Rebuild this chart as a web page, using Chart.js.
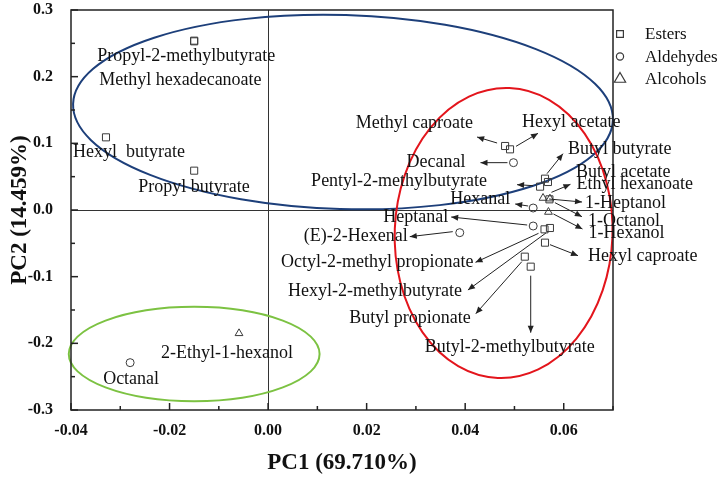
<!DOCTYPE html>
<html><head><meta charset="utf-8">
<script src="https://cdn.jsdelivr.net/npm/chart.js@4/dist/chart.umd.min.js"></script>
<style>html,body{margin:0;padding:0;background:#fff}#wrap{width:721px;height:479px}</style>
</head><body><div id="wrap"><canvas id="c" width="721" height="479"></canvas></div>
<script>
// ---- data ----
const seriesNames = ["Esters", "Aldehydes", "Alcohols"];

const esterNames = ["Propyl-2-methylbutyrate","Methyl hexadecanoate","Hexyl  butyrate","Propyl butyrate","Methyl caproate","Hexyl acetate","Butyl butyrate","Pentyl-2-methylbutyrate","Butyl acetate","Ethyl hexanoate","Octyl-2-methyl propionate","Hexyl-2-methylbutyrate","Hexyl caproate","Butyl propionate","Butyl-2-methylbutyrate"];
const esterPC1 = [-0.0150,-0.0150,-0.0329,-0.0150,0.0481,0.0491,0.0562,0.0552,0.0568,0.0571,0.0561,0.0572,0.0562,0.0521,0.0533];
const esterPC2 = [0.254,0.253,0.109,0.059,0.096,0.091,0.047,0.035,0.042,0.016,-0.029,-0.027,-0.049,-0.070,-0.085];

const aldehydeNames = ["Decanal","Hexanal","Heptanal","(E)-2-Hexenal","Octanal"];
const aldehydePC1 = [0.0498,0.0538,0.0538,0.0389,-0.0280];
const aldehydePC2 = [0.071,0.003,-0.024,-0.034,-0.229];

const alcoholNames = ["1-Heptanol","1-Octanol","1-Hexanol","2-Ethyl-1-hexanol"];
const alcoholPC1 = [0.0558,0.0572,0.0569,-0.0059];
const alcoholPC2 = [0.018,0.017,-0.003,-0.185];

const axisTitleX = "PC1 (69.710%)";
const axisTitleY = "PC2 (14.459%)";

// group ellipses (data units): centre, radii
const ellipseCX = [0.0152, 0.0478, -0.0150];
const ellipseCY = [0.147, -0.0345, -0.216];
const ellipseRX = [0.0548, 0.0221, 0.02545];
const ellipseRY = [0.1455, 0.2175, 0.0708];

// ---- layout / style (pixels) ----
const ellipseStyle = [
  {color:'#1d3f7a', rot:0.03},
  {color:'#e3151c', rot:0.04},
  {color:'#7cc242', rot:0}
];
const labelLayout = {
 "Propyl-2-methylbutyrate": {dx:-97, dy:16, align:'left'},
 "Methyl hexadecanoate": {dx:-95, dy:39, align:'left'},
 "Hexyl  butyrate": {dx:-33, dy:15, align:'left'},
 "Propyl butyrate": {dx:-56, dy:17, align:'left'},
 "Methyl caproate": {dx:-32, dy:-23, align:'right', arrow:[-8,-3,-28,-9]},
 "Hexyl acetate": {dx:12, dy:-27, align:'left', arrow:[6,-3,28,-16]},
 "Butyl butyrate": {dx:23, dy:-29, align:'left', arrow:[2,-5,18,-25]},
 "Pentyl-2-methylbutyrate": {dx:-53, dy:-5, align:'right', arrow:[-7,-1,-23,-2]},
 "Butyl acetate": {dx:28, dy:-10, align:'left'},
 "Ethyl hexanoate": {dx:27, dy:-15, align:'left', arrow:[2,-7,21,-15]},
 "Octyl-2-methyl propionate": {dx:-71, dy:33, align:'right', arrow:[-6,4,-69,33]},
 "Hexyl-2-methylbutyrate": {dx:-88, dy:63, align:'right', arrow:[-4,5,-82,62]},
 "Hexyl caproate": {dx:43, dy:14, align:'left', arrow:[5,2,33,13]},
 "Butyl propionate": {dx:-54, dy:62, align:'right', arrow:[-3,5,-49,57]},
 "Butyl-2-methylbutyrate": {dx:-106, dy:81, align:'left', arrow:[0,9,0,66]},
 "Decanal": {dx:-48, dy:0, align:'right', arrow:[-6,0,-33,0]},
 "Hexanal": {dx:-23, dy:-9, align:'right', arrow:[-5,-2,-18,-4]},
 "Heptanal": {dx:-85, dy:-9, align:'right', arrow:[-6,-1,-82,-9]},
 "(E)-2-Hexenal": {dx:-52, dy:4, align:'right', arrow:[-7,-1,-50,4]},
 "Octanal": {dx:-27, dy:17, align:'left'},
 "1-Heptanol": {dx:42, dy:5, align:'left', arrow:[6,1,39,4]},
 "1-Octanol": {dx:38, dy:23, align:'left', arrow:[5,4,32,18]},
 "1-Hexanol": {dx:40, dy:21, align:'left', arrow:[5,2,34,17]},
 "2-Ethyl-1-hexanol": {dx:-78, dy:20, align:'left'}
};
const SERIF = '"Liberation Serif","Times New Roman",serif';
const MARK = '#3a3a3a';

function pts(xs, ys){ return xs.map((x,i)=>({x:x, y:ys[i]})); }

const groupsNames = [esterNames, aldehydeNames, alcoholNames];

const overlay = {
  id:'overlay',
  beforeDatasetsDraw(chart){
    const ctx = chart.ctx, xs = chart.scales.x, ys = chart.scales.y, a = chart.chartArea;
    ctx.save();
    ellipseCX.forEach((cx,i)=>{
      const px = xs.getPixelForValue(cx), py = ys.getPixelForValue(ellipseCY[i]);
      const rx = Math.abs(xs.getPixelForValue(cx+ellipseRX[i]) - px);
      const ry = Math.abs(ys.getPixelForValue(ellipseCY[i]+ellipseRY[i]) - py);
      ctx.beginPath();
      ctx.ellipse(px, py, rx, ry, ellipseStyle[i].rot, 0, Math.PI*2);
      ctx.strokeStyle = ellipseStyle[i].color; ctx.lineWidth = 2; ctx.stroke();
    });
    ctx.strokeStyle = '#222'; ctx.lineWidth = 1.5;
    ctx.strokeRect(a.left, a.top, a.right-a.left, a.bottom-a.top);
    ctx.lineWidth = 1.5;
    xs.ticks.forEach(t=>{
      const p = xs.getPixelForValue(t.value);
      const major = Math.abs(Math.round(t.value*100)) % 2 === 0;
      const len = major ? 7 : 4;
      ctx.beginPath(); ctx.moveTo(p, a.bottom); ctx.lineTo(p, a.bottom-len); ctx.stroke();
    });
    ys.ticks.forEach(t=>{
      const p = ys.getPixelForValue(t.value);
      const major = Math.abs(Math.round(t.value*100)) % 10 === 0;
      const len = major ? 7 : 4;
      ctx.beginPath(); ctx.moveTo(a.left, p); ctx.lineTo(a.left+len, p); ctx.stroke();
    });
    ctx.restore();
  },
  afterDatasetsDraw(chart){
    const ctx = chart.ctx;
    ctx.save();
    ctx.font = '18px ' + SERIF;
    ctx.textBaseline = 'middle';
    chart.data.datasets.forEach((ds, di)=>{
      const meta = chart.getDatasetMeta(di);
      const names = groupsNames[di];
      meta.data.forEach((el, i)=>{
        const L = labelLayout[names[i]]; if(!L) return;
        const x = el.x, y = el.y;
        if (L.arrow){
          const [tx,ty,hx,hy] = L.arrow;
          const x1=x+tx, y1=y+ty, x2=x+hx, y2=y+hy;
          ctx.strokeStyle='#222'; ctx.fillStyle='#222'; ctx.lineWidth=1;
          ctx.beginPath(); ctx.moveTo(x1,y1); ctx.lineTo(x2,y2); ctx.stroke();
          const ang = Math.atan2(y2-y1, x2-x1), hl=7, hw=3;
          ctx.beginPath();
          ctx.moveTo(x2,y2);
          ctx.lineTo(x2-hl*Math.cos(ang)+hw*Math.sin(ang), y2-hl*Math.sin(ang)-hw*Math.cos(ang));
          ctx.lineTo(x2-hl*Math.cos(ang)-hw*Math.sin(ang), y2-hl*Math.sin(ang)+hw*Math.cos(ang));
          ctx.closePath(); ctx.fill();
        }
        ctx.fillStyle = '#111';
        ctx.textAlign = L.align;
        ctx.fillText(names[i], x+L.dx, y+L.dy);
      });
    });
    ctx.restore();
  },
  afterDraw(chart){
    const ctx = chart.ctx, a = chart.chartArea;
    ctx.save();
    const legendR = [4.8, 3.6, 6.5];
    chart.data.datasets.forEach((ds, di)=>{
      const mx = a.right + 7, my = a.top + 24 + di*22.5;
      ctx.fillStyle = 'rgba(255,255,255,0)';
      ctx.strokeStyle = MARK; ctx.lineWidth = 1.2;
      Chart.helpers.drawPoint(ctx, {pointStyle: ds.pointStyle, radius: legendR[di], borderWidth:1.2, rotation:0}, mx, my);
      ctx.fillStyle = '#111';
      ctx.font = '17px ' + SERIF; ctx.textAlign='left'; ctx.textBaseline='middle';
      ctx.fillText(ds.label, a.right + 32, my + 1);
    });
    ctx.restore();
  }
};

new Chart(document.getElementById('c'), {
  type:'scatter',
  data:{ datasets:[
    {label:seriesNames[0], data:pts(esterPC1, esterPC2), pointStyle:'rect', pointRadius:5, borderColor:MARK, backgroundColor:'rgba(0,0,0,0)', borderWidth:1, pointHoverRadius:5},
    {label:seriesNames[1], data:pts(aldehydePC1, aldehydePC2), pointStyle:'circle', pointRadius:4, borderColor:MARK, backgroundColor:'rgba(0,0,0,0)', borderWidth:1, pointHoverRadius:4},
    {label:seriesNames[2], data:pts(alcoholPC1, alcoholPC2), pointStyle:'triangle', pointRadius:4.5, borderColor:MARK, backgroundColor:'rgba(0,0,0,0)', borderWidth:1, pointHoverRadius:4.5}
  ]},
  options:{
    responsive:false, animation:false, devicePixelRatio:1,
    layout:{padding:{left:0, right:108, top:10, bottom:0}},
    plugins:{legend:{display:false}, tooltip:{enabled:false}},
    scales:{
      x:{
        type:'linear', min:-0.04, max:0.07,
        afterFit(s){ s.height = 69; s.paddingLeft = 0; s.paddingRight = 0; },
        border:{display:false},
        grid:{drawTicks:false, lineWidth:1, color:(c)=> (c.tick && Math.abs(c.tick.value)<1e-9) ? '#333' : 'rgba(0,0,0,0)'},
        ticks:{stepSize:0.01, autoSkip:false, maxRotation:0, padding:11, color:'#111',
          font:{family:SERIF, size:16, weight:'bold'},
          callback:(v)=>{ const k=Math.round(v*100); return (Math.abs(k)%2===0) ? (Math.abs(v)<1e-9?0:v).toFixed(2) : ''; }},
        title:{display:true, text:axisTitleX, color:'#111', font:{family:SERIF, size:23, weight:'bold'}, padding:{top:4,bottom:2}}
      },
      y:{
        type:'linear', min:-0.3, max:0.3,
        afterFit(s){ s.width = 71; s.paddingTop = 0; s.paddingBottom = 0; },
        border:{display:false},
        grid:{drawTicks:false, lineWidth:1, color:(c)=> (c.tick && Math.abs(c.tick.value)<1e-9) ? '#333' : 'rgba(0,0,0,0)'},
        ticks:{stepSize:0.05, autoSkip:false, padding:18, color:'#111',
          font:{family:SERIF, size:16, weight:'bold'},
          callback:(v)=>{ const k=Math.round(v*100); return (Math.abs(k)%10===0) ? (Math.abs(v)<1e-9?0:v).toFixed(1) : ''; }},
        title:{display:true, text:axisTitleY, color:'#111', font:{family:SERIF, size:23, weight:'bold'}, padding:{top:6,bottom:4}}
      }
    }
  },
  plugins:[overlay]
});
</script></body></html>
